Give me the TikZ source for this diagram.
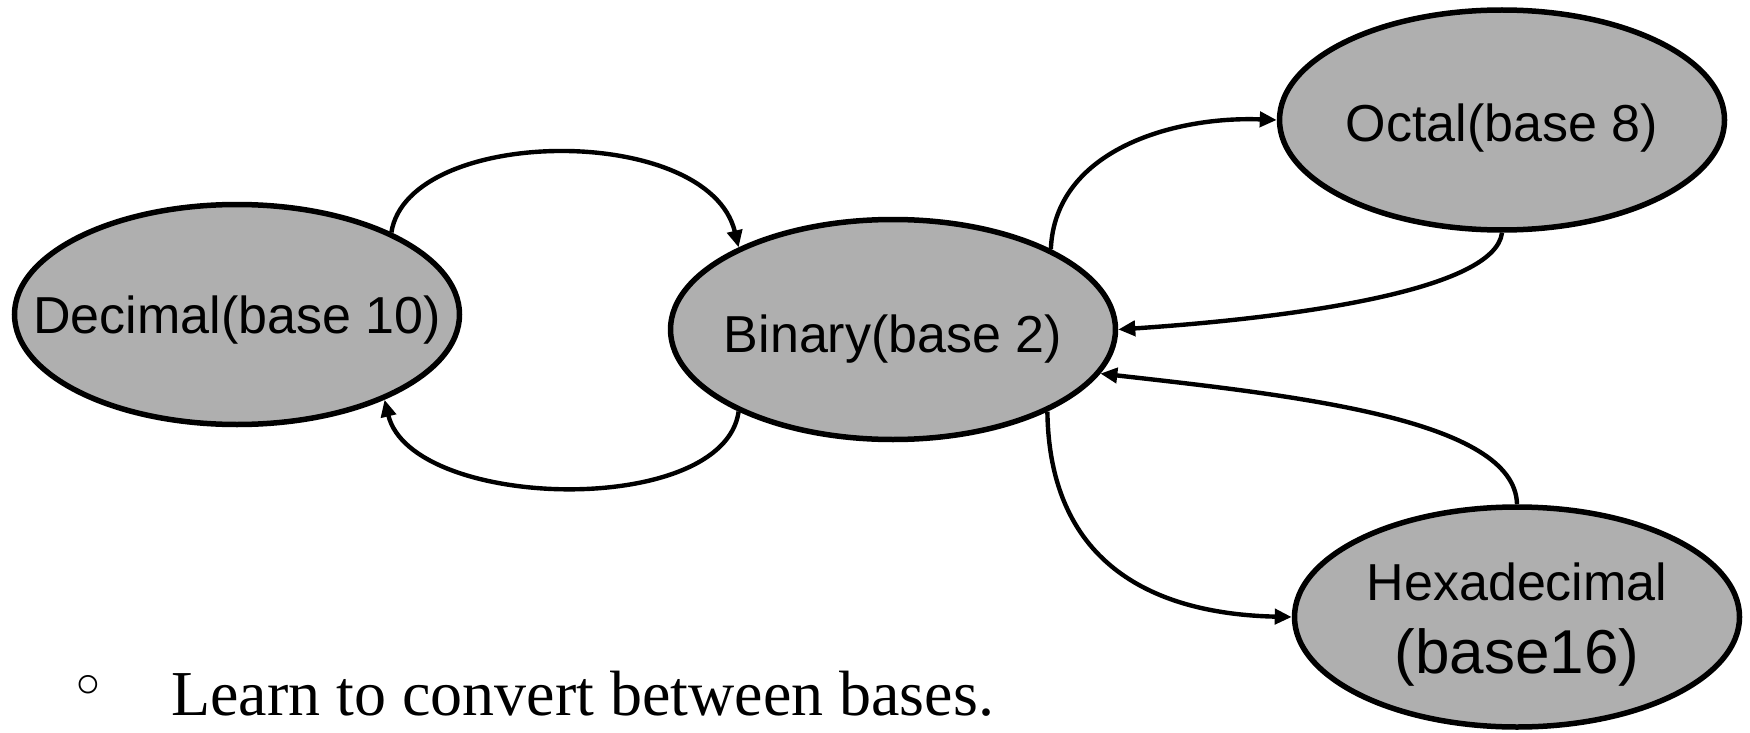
\documentclass[tikz,border=0pt]{standalone}
\usepackage{fontspec}
\setmainfont{Liberation Serif}
\newfontfamily\labelfont{Liberation Sans}
\newfontfamily\symfont{DejaVu Sans}
\usetikzlibrary{shapes.geometric,arrows.meta}
\definecolor{basefill}{HTML}{AFAFAF}
\begin{document}
\begin{tikzpicture}[x=1pt,y=-1pt,
  base/.style={ellipse, draw=black, line width=5.5pt, fill=basefill,
    minimum width=445pt, minimum height=220pt, inner sep=0pt},
  basetext/.style={font=\labelfont\fontsize{52}{60}\selectfont, inner sep=0pt, anchor=base},
  conv/.style={line width=4.4pt, -{Triangle[length=17pt,width=15pt]}},
]
\useasboundingbox (0,0) rectangle (1750,733);

% number systems
\node[base] (dec) at (237,314.5) {};
\node[base] (bin) at (893,329.5) {};
\node[base] (oct) at (1502,120) {};
\node[base] (hex) at (1517,617) {};

\node[basetext, yshift=-18.5pt] (dect) at (dec) {Decimal(base 10)};
\node[basetext, yshift=-22.5pt] (bint) at (bin) {Binary(base 2)};
\node[basetext, yshift=-22pt] (octt) at (oct) {Octal(base 8)};
\node[basetext, yshift=17pt] (hext1) at (hex) {Hexadecimal};
\node[basetext, font=\labelfont\fontsize{62}{70}\selectfont, yshift=-56pt] (hext2) at (hex) {(base16)};

% conversions
\draw[conv] (dec.28) .. controls +(17,-107) and +(-30,-125) .. (bin.152.6);
\draw[conv] (bin.208) .. controls +(-15,107) and +(27,111) .. (dec.330);
\draw[conv] (bin.27) .. controls +(4,-98) and +(-105,-4) .. (oct.180);
\draw[conv] (oct.270) .. controls +(-7,57) and +(180,-12) .. (bin.0);
\draw[conv] (hex.90) .. controls +(-2,-85) and +(195,22) .. (bin.348);
\draw[conv] (bin.332.6) .. controls +(2,155) and +(-135,-3) .. (hex.180);

% note
\node[font=\symfont\fontsize{64}{68}\selectfont, inner sep=0pt] (bul) at (88,692) {◦};
\node[font=\fontsize{64}{72}\selectfont, anchor=base west, inner sep=0pt] (learn) at (171,715) {Learn to convert between bases.};
\end{tikzpicture}
\end{document}
